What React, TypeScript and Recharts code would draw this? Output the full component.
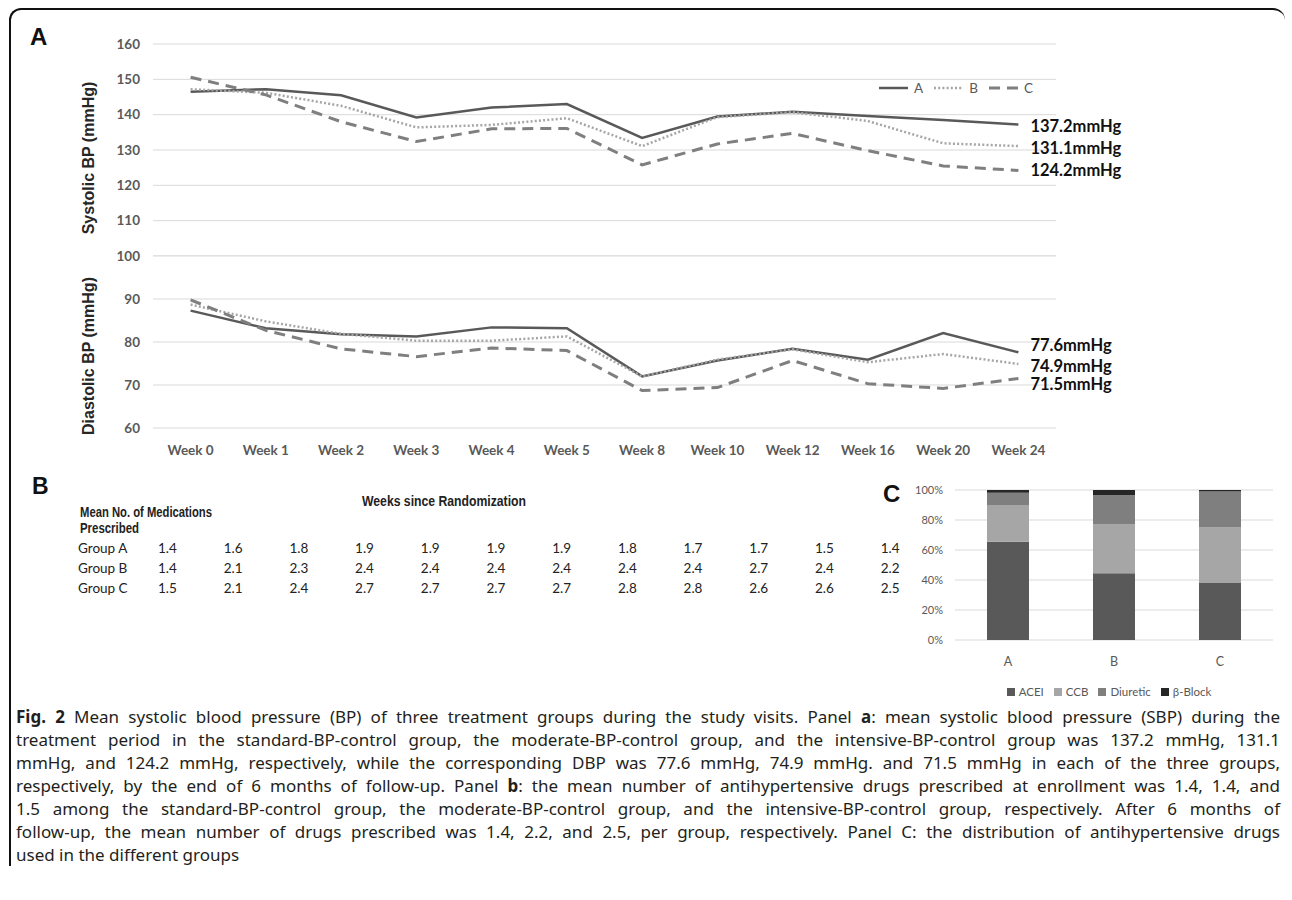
import {
  LineChart, Line, BarChart, Bar, XAxis, YAxis, CartesianGrid, Legend, LabelList,
} from 'recharts'

// visit labels shared by panel A and panel B
const weeks = ['Week 0', 'Week 1', 'Week 2', 'Week 3', 'Week 4', 'Week 5', 'Week 8', 'Week 10', 'Week 12', 'Week 16', 'Week 20', 'Week 24']

// panel A: systolic / diastolic means per group (mmHg)
const sbpA = [146.5, 147.2, 145.5, 139.2, 142.0, 143.0, 133.4, 139.5, 140.8, 139.6, 138.5, 137.2]
const sbpB = [147.2, 146.2, 142.5, 136.4, 137.1, 139.0, 131.1, 139.3, 140.7, 138.2, 131.9, 131.1]
const sbpC = [150.6, 145.6, 138.0, 132.4, 136.0, 136.1, 125.8, 131.7, 134.7, 129.8, 125.5, 124.2]
const dbpA = [87.3, 83.2, 81.8, 81.3, 83.4, 83.2, 72.0, 75.7, 78.4, 75.9, 82.1, 77.6]
const dbpB = [88.7, 84.8, 81.9, 80.3, 80.3, 81.3, 72.0, 75.9, 78.3, 75.3, 77.2, 74.9]
const dbpC = [89.8, 82.7, 78.4, 76.6, 78.6, 78.0, 68.7, 69.4, 75.7, 70.3, 69.2, 71.5]

// 100 is shared: its gridline and label belong to the lower chart
const sbpTicks = [110, 120, 130, 140, 150, 160]
const dbpTicks = [60, 70, 80, 90, 100]

// panel B: mean number of medications prescribed
const tableGroups = ['Group A', 'Group B', 'Group C']
const medsA = [1.4, 1.6, 1.8, 1.9, 1.9, 1.9, 1.9, 1.8, 1.7, 1.7, 1.5, 1.4]
const medsB = [1.4, 2.1, 2.3, 2.4, 2.4, 2.4, 2.4, 2.4, 2.4, 2.7, 2.4, 2.2]
const medsC = [1.5, 2.1, 2.4, 2.7, 2.7, 2.7, 2.7, 2.8, 2.8, 2.6, 2.6, 2.5]

// panel C: drug class distribution (%)
const drugGroups = ['A', 'B', 'C']
const aceiPct = [65.5, 44.5, 38.0]
const ccbPct = [24.5, 32.5, 37.0]
const diureticPct = [8.2, 19.5, 24.0]
const betaPct = [1.8, 3.5, 1.0]
const pctTicks = [0, 20, 40, 60, 80, 100]

const sbpData = weeks.map((w, i) => ({ week: w, A: sbpA[i], B: sbpB[i], C: sbpC[i] }))
const dbpData = weeks.map((w, i) => ({ week: w, A: dbpA[i], B: dbpB[i], C: dbpC[i] }))
const medsRows = [medsA, medsB, medsC]
const drugData = drugGroups.map((g, i) => ({
  group: g, ACEI: aceiPct[i], CCB: ccbPct[i], Diuretic: diureticPct[i], 'β-Block': betaPct[i],
}))

const lineStyles = [
  { key: 'A', color: '#595959', width: 2.5, dash: undefined },
  { key: 'B', color: '#a6a6a6', width: 2.5, dash: '2 2.2' },
  { key: 'C', color: '#7f7f7f', width: 3, dash: '11 7' },
]

const tickStyle = { fontFamily: 'Lato', fontWeight: 700, fontSize: 13.5, fill: '#595959' }
const PAD = 37.6

// label drawn only at the last visit, to the right of the line
const endLabel = (dy: number) => (props: any) => {
  const { x, y, value, index } = props
  if (index !== weeks.length - 1) return null
  return (
    <text x={x + 12} y={y + dy} dominantBaseline="central" fontFamily="Lato" fontWeight={700} fontSize={16.5} fill="#111">
      {value}mmHg
    </text>
  )
}

const sbpOffsets = { A: 1.5, B: 2, C: 0 } as Record<string, number>
const dbpOffsets = { A: -7, B: 2, C: 5 } as Record<string, number>

const renderLineLegend = () => (
  <div style={{ display: 'flex', alignItems: 'center', fontFamily: 'Lato', fontSize: 13.5, color: '#595959' }}>
    {lineStyles.map((s) => (
      <div key={s.key} style={{ display: 'flex', alignItems: 'center', marginRight: 11 }}>
        <svg width={29} height={6}>
          <line x1={0} y1={3} x2={29} y2={3} stroke={s.color} strokeWidth={s.width} strokeDasharray={s.dash} />
        </svg>
        <span style={{ marginLeft: 6 }}>{s.key}</span>
      </div>
    ))}
  </div>
)

function BpChart({ data, top, height, margin, domain, ticks, offsets, showX, legend }: any) {
  return (
    <div style={{ position: 'absolute', left: 0, top }}>
      <LineChart width={1292} height={height} data={data} margin={margin}>
        <CartesianGrid vertical={false} stroke="#d9d9d9" />
        <XAxis
          dataKey="week"
          hide={!showX}
          height={40}
          interval={0}
          axisLine={false}
          tickLine={false}
          tickSize={0}
          tickMargin={17}
          padding={{ left: PAD, right: PAD }}
          tick={tickStyle}
        />
        <YAxis
          domain={domain}
          ticks={ticks}
          width={153}
          axisLine={false}
          tickLine={false}
          tickSize={0}
          tickMargin={13}
          tick={tickStyle}
        />
        {legend && (
          <Legend
            layout="horizontal"
            verticalAlign="middle"
            align="center"
            content={renderLineLegend}
            wrapperStyle={{ left: 879, top: 80, width: 220 }}
          />
        )}
        {lineStyles.map((s) => (
          <Line
            key={s.key}
            type="linear"
            dataKey={s.key}
            stroke={s.color}
            strokeWidth={s.width}
            strokeDasharray={s.dash}
            dot={false}
            activeDot={false}
            isAnimationActive={false}
          >
            <LabelList dataKey={s.key} content={endLabel(offsets[s.key])} />
          </Line>
        ))}
      </LineChart>
    </div>
  )
}

const captionLines = [
  [<b key="f">Fig. 2</b>, ' Mean systolic blood pressure (BP) of three treatment groups during the study visits. Panel ', <b key="a">a</b>, ': mean systolic blood pressure (SBP) during the'],
  ['treatment period in the standard-BP-control group, the moderate-BP-control group, and the intensive-BP-control group was 137.2 mmHg, 131.1'],
  ['mmHg, and 124.2 mmHg, respectively, while the corresponding DBP was 77.6 mmHg, 74.9 mmHg. and 71.5 mmHg in each of the three groups,'],
  ['respectively, by the end of 6 months of follow-up. Panel ', <b key="b">b</b>, ': the mean number of antihypertensive drugs prescribed at enrollment was 1.4, 1.4, and'],
  ['1.5 among the standard-BP-control group, the moderate-BP-control group, and the intensive-BP-control group, respectively. After 6 months of'],
  ['follow-up, the mean number of drugs prescribed was 1.4, 2.2, and 2.5, per group, respectively. Panel C: the distribution of antihypertensive drugs'],
  ['used in the different groups'],
]

const drugColors = ['#595959', '#a6a6a6', '#7f7f7f', '#262626']
const drugKeys = ['ACEI', 'CCB', 'Diuretic', 'β-Block']

export default function App() {
  return (
    <div style={{ position: 'absolute', left: 0, top: 0, width: 1292, height: 900, background: '#fff', overflow: 'hidden' }}>
      <div
        style={{
          position: 'absolute', left: 9, top: 8, width: 1274, height: 856,
          borderTop: '2px solid #111', borderLeft: '2px solid #111',
          borderTopLeftRadius: 12, borderTopRightRadius: 12,
        }}
      />

      <BpChart
        data={sbpData}
        top={0}
        height={256}
        margin={{ top: 44, right: 236, bottom: 0, left: 0 }}
        domain={[100, 160]}
        ticks={sbpTicks}
        offsets={sbpOffsets}
        showX={false}
        legend
      />
      <BpChart
        data={dbpData}
        top={246}
        height={222}
        margin={{ top: 10, right: 236, bottom: 0, left: 0 }}
        domain={[60, 100]}
        ticks={dbpTicks}
        offsets={dbpOffsets}
        showX
        legend={false}
      />

      <div style={{ position: 'absolute', left: 880, top: 480 }}>
        <BarChart width={403} height={230} data={drugData} margin={{ top: 10, right: 10, bottom: 40, left: 0 }}>
          <CartesianGrid vertical={false} stroke="#d9d9d9" />
          <XAxis
            dataKey="group"
            height={30}
            axisLine={false}
            tickLine={false}
            tickSize={0}
            tickMargin={17}
            tick={{ fontFamily: 'Lato', fontSize: 12.5, fill: '#595959' }}
          />
          <YAxis
            domain={[0, 100]}
            ticks={pctTicks}
            width={75}
            axisLine={false}
            tickLine={false}
            tickSize={0}
            tickMargin={12}
            tickFormatter={(v) => `${v}%`}
            tick={{ fontFamily: 'Lato', fontSize: 11, fill: '#595959' }}
          />
          <Legend
            layout="horizontal"
            verticalAlign="middle"
            align="center"
            iconType="square"
            iconSize={8}
            formatter={(v) => <span style={{ color: '#595959', fontFamily: 'Lato', fontSize: 11.5 }}>{v}</span>}
            wrapperStyle={{ left: 75, top: 202, width: 318 }}
          />
          {drugKeys.map((k, i) => (
            <Bar key={k} dataKey={k} stackId="d" fill={drugColors[i]} barSize={42} isAnimationActive={false} />
          ))}
        </BarChart>
      </div>

      <svg width={1292} height={900} style={{ position: 'absolute', left: 0, top: 0, pointerEvents: 'none' }}>
        <text x={30} y={45} fontFamily="Liberation Sans" fontWeight={700} fontSize={24} fill="#111">A</text>
        <text x={32} y={493.5} fontFamily="Liberation Sans" fontWeight={700} fontSize={23} fill="#111">B</text>
        <text x={883} y={502} fontFamily="Liberation Sans" fontWeight={700} fontSize={24} fill="#111">C</text>

        <text transform="rotate(-90 88 158)" x={88} y={158} textAnchor="middle" dominantBaseline="central"
          fontFamily="Liberation Sans" fontWeight={700} fontSize={16} fill="#262626">Systolic BP (mmHg)</text>
        <text transform="rotate(-90 88 356)" x={88} y={356} textAnchor="middle" dominantBaseline="central"
          fontFamily="Liberation Sans" fontWeight={700} fontSize={16} fill="#262626">Diastolic BP (mmHg)</text>

        <text x={362} y={501} dominantBaseline="central" fontFamily="Liberation Sans" fontWeight={700} fontSize={14.5}
          fill="#222" textLength={164} lengthAdjust="spacingAndGlyphs">Weeks since Randomization</text>
        <text x={80} y={512} dominantBaseline="central" fontFamily="Liberation Sans" fontWeight={700} fontSize={14.5}
          fill="#222" textLength={132} lengthAdjust="spacingAndGlyphs">Mean No. of Medications</text>
        <text x={80} y={528} dominantBaseline="central" fontFamily="Liberation Sans" fontWeight={700} fontSize={14.5}
          fill="#222" textLength={59} lengthAdjust="spacingAndGlyphs">Prescribed</text>
        {tableGroups.map((g, r) => (
          <g key={g} fontFamily="Lato" fontSize={13.5} fill="#222">
            <text x={78} y={548 + r * 20} dominantBaseline="central">{g}</text>
            {medsRows[r].map((v, c) => (
              <text key={c} x={158 + c * 65.7} y={548 + r * 20} dominantBaseline="central">{v.toFixed(1)}</text>
            ))}
          </g>
        ))}
      </svg>

      <div style={{ position: 'absolute', left: 16, top: 705, width: 1264, fontFamily: 'Noto Sans', fontSize: 17, lineHeight: '23px', color: '#231f20' }}>
        {captionLines.map((parts, i) => (
          <div
            key={i}
            style={{
              whiteSpace: 'nowrap',
              textAlign: 'justify',
              textAlignLast: i < captionLines.length - 1 ? 'justify' : 'left',
            }}
          >
            {parts}
          </div>
        ))}
      </div>
    </div>
  )
}
